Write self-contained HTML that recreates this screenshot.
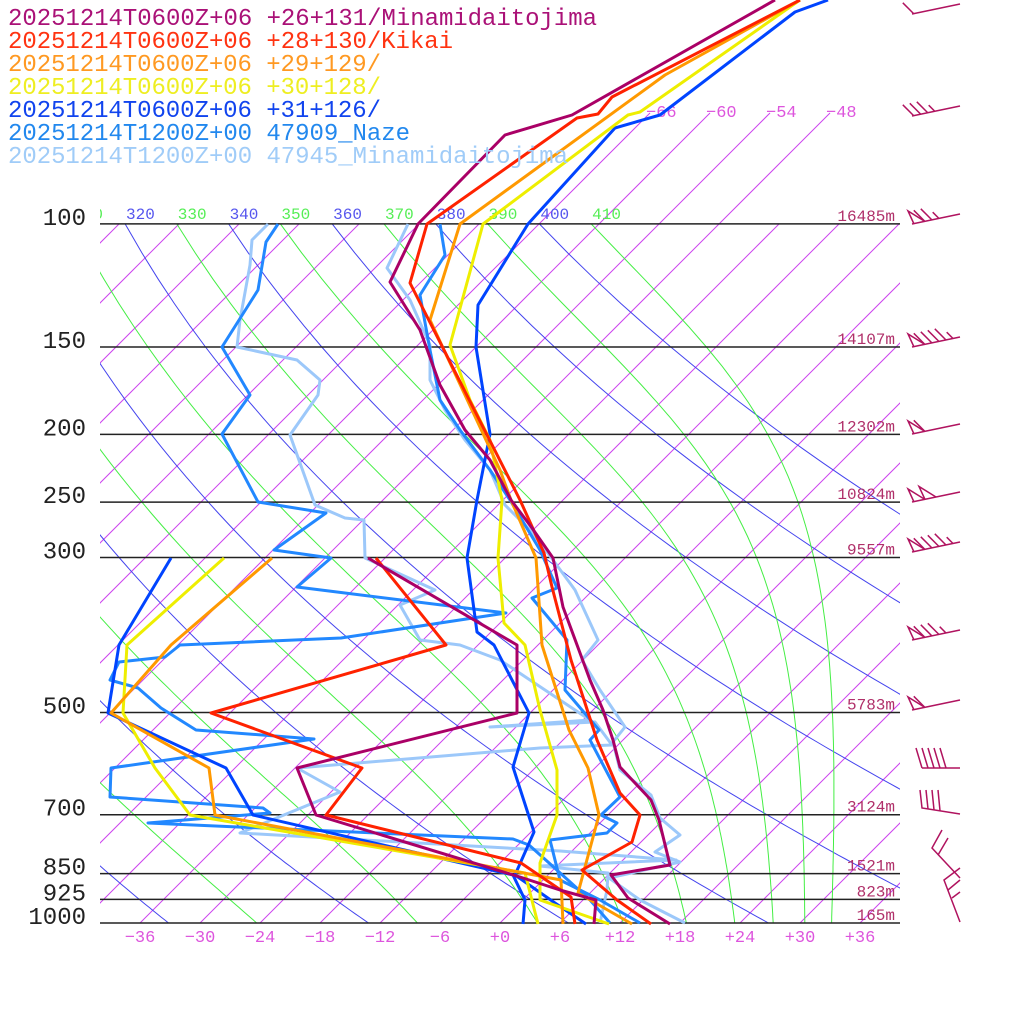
<!DOCTYPE html>
<html><head><meta charset="utf-8"><style>
html,body{margin:0;padding:0;background:#fff;}
svg{display:block;}
text{font-family:"Liberation Mono",monospace;}
</style></head><body>
<svg id="s" width="1024" height="1024" viewBox="0 0 1024 1024" xmlns="http://www.w3.org/2000/svg">
<defs>
<clipPath id="plot"><rect x="100" y="224" width="800" height="699"/></clipPath>
<clipPath id="lab"><rect x="100" y="195" width="800" height="30"/></clipPath>
</defs>
<g id="grid" clip-path="url(#plot)"></g>
<g id="extra"></g>
<g id="plines" stroke="#222" stroke-width="1.5"></g>
<g id="labs"></g>
<g fill="none" stroke-width="3" stroke-linejoin="round">
<polyline stroke="#9cc8fa" points="408,224 387,268 410,300 430,345 430,380 445,410 465,440 490,470 505,505 530,530 553,560 575,590 598,640 582,660 600,690 625,727 613,742 620,770 651,795 660,818 680,835 655,852 680,862 609,878 640,900 685,923"/>
<polyline stroke="#9cc8fa" points="268,224 252,240 250,265 240,320 237,347 297,360 320,380 318,395 290,435 315,505 345,518 364,520 365,558 435,590 400,605 420,640 460,645 500,660 560,700 590,720 490,727 595,722 612,745 540,748 297,768 340,792 240,833 560,851 676,860 540,866 608,873 607,890 600,923"/>
<polyline stroke="#2288ff" points="440,224 445,255 420,295 430,350 440,400 460,430 490,470 510,500 540,550 557,588 532,598 567,640 565,690 599,730 590,740 620,797 601,815 617,823 607,833 550,840 560,880 600,900 640,923"/>
<polyline stroke="#2288ff" points="278,224 266,242 258,290 222,347 250,395 222,434 258,502 326,513 274,550 331,558 297,587 506,613 341,638 180,645 165,657 119,662 110,680 138,688 161,708 196,730 314,739 111,768 110,797 263,808 270,813 148,823 513,839 529,845 548,862 590,900 610,923"/>
<polyline stroke="#0044ff" points="828,0 795,12 660,115 615,128 528,224 478,305 476,347 490,434 477,500 467,558 477,632 494,645 529,713 513,767 534,832 515,875 555,903 586,924"/>
<polyline stroke="#0044ff" points="171,558 119,645 108,713 226,768 253,815 513,875 525,900 523,924"/>
<polyline stroke="#eeee00" points="800,0 640,112 628,115 483,224 450,345 470,400 490,440 500,490 502,500 498,558 504,623 525,645 540,710 557,770 557,815 540,863 540,900 609,924"/>
<polyline stroke="#eeee00" points="224,558 127,645 123,713 155,768 190,815 525,873 538,924"/>
<polyline stroke="#ff9900" points="800,0 665,75 460,224 430,320 500,470 511,500 536,558 542,645 569,730 588,768 599,815 578,893 632,924"/>
<polyline stroke="#ff9900" points="272,558 171,645 111,713 209,768 215,815 561,880 563,924"/>
<polyline stroke="#ff2200" points="800,0 612,97 598,114 577,118 427,224 410,283 520,500 544,553 552,587 571,660 597,740 620,793 640,815 632,842 582,870 617,900 651,924"/>
<polyline stroke="#ff2200" points="376,558 446,645 211,713 362,768 326,815 521,863 571,897 575,924"/>
<polyline stroke="#aa0066" points="775,0 572,115 505,135 418,224 390,282 420,330 440,385 465,430 490,460 511,500 532,528 553,558 563,607 590,680 603,710 613,740 620,767 651,800 659,820 670,865 611,875 628,898 670,924"/>
<polyline stroke="#aa0066" points="368,558 517,645 517,713 297,768 316,815 520,877 560,890 596,900 594,924"/>
</g>
<g id="barbs" stroke="#b0135f" stroke-width="1.5" fill="none"></g>
<g font-size="24">
<text x="8" y="25" fill="#aa1177" textLength="589">20251214T0600Z+06 +26+131/Minamidaitojima</text>
<text x="8" y="48" fill="#ff3311" textLength="445">20251214T0600Z+06 +28+130/Kikai</text>
<text x="8" y="71" fill="#ff9922" textLength="373">20251214T0600Z+06 +29+129/</text>
<text x="8" y="94" fill="#eeee22" textLength="373">20251214T0600Z+06 +30+128/</text>
<text x="8" y="117" fill="#1144ee" textLength="373">20251214T0600Z+06 +31+126/</text>
<text x="8" y="140" fill="#2288ee" textLength="402">20251214T1200Z+00 47909_Naze</text>
<text x="8" y="163" fill="#a0ccf8" textLength="560">20251214T1200Z+00 47945_Minamidaitojima</text>
</g>
</svg>
<script>
(function(){
var NS="http://www.w3.org/2000/svg";
function Y(p){return 923-303.6*Math.log(1000/p);}
function X(T,y){return 500+10*T+(923-y);}
function el(par,tag,a,txt){var e=document.createElementNS(NS,tag);for(var k in a)e.setAttribute(k,a[k]);if(txt!==undefined)e.textContent=txt;par.appendChild(e);return e;}
var g=document.getElementById('grid'),ex=document.getElementById('extra'),pl=document.getElementById('plines'),lb=document.getElementById('labs');
for(var T=-150;T<=60;T+=6){var x1=X(T,923),x2=X(T,224);el(g,'line',{x1:x1,y1:923,x2:x2,y2:224,stroke:'#cc44ee','stroke-width':1});}
[-66,-60,-54,-48].forEach(function(T){var x1=X(T,224),x2=X(T,113);el(ex,'line',{x1:x1,y1:224,x2:x2,y2:113,stroke:'#cc44ee','stroke-width':1});
el(lb,'text',{x:x2-4,y:117,fill:'#dd55dd','font-size':17},(T<0?'−':'+')+Math.abs(T));});
for(var th=200;th<=400;th+=20){var pts=[];for(var p=100;p<=1000;p+=10){var y=Y(p),t=th*Math.pow(p/1000,0.2857)-273.15;pts.push(X(t,y).toFixed(1)+','+y.toFixed(1));}
el(g,'polyline',{points:pts.join(' '),fill:'none',stroke:'#4444ee','stroke-width':1});}
for(var te=230;te<=410;te+=20){var T=te*Math.pow(0.1,0.2857),pts=[];for(var p=100;p<=1000;p+=1){
if(p%10==0){var y=Y(p);pts.push(X(T-273.15,y).toFixed(1)+','+y.toFixed(1));}
var es=6.112*Math.exp(17.67*(T-273.15)/(T-29.65)),rs=0.622*es/(p-es);
var d=(287*T+2.5e6*rs)/(p*(1005+2.5e6*2.5e6*rs*0.622/(287*T*T)));T+=d;}
el(g,'polyline',{points:pts.join(' '),fill:'none',stroke:'#44ee44','stroke-width':1});}
var lg=el(lb,'g',{'clip-path':'url(#lab)','font-size':16});
for(var th=310;th<=410;th+=10){var t=th*Math.pow(0.1,0.2857)-273.15;var x=X(t,224)+1;
el(lg,'text',{x:x,y:219,fill:(th%20==0?'#5555ee':'#55ee55')},''+th);}
var P=[[100,'16485m'],[150,'14107m'],[200,'12302m'],[250,'10824m'],[300,'9557m'],[500,'5783m'],[700,'3124m'],[850,'1521m'],[925,'823m'],[1000,'165m']];
P.forEach(function(a){var y=Y(a[0]);if(a[0]==1000)y=923;el(pl,'line',{x1:100,y1:y,x2:900,y2:y});
el(lb,'text',{x:86,y:y+1,'text-anchor':'end','font-size':24,fill:'#222','font-family':'Liberation Sans, sans-serif'},''+a[0]);
el(lb,'text',{x:895,y:y-3,'text-anchor':'end','font-size':16,fill:'#b0306a'},a[1]);});
for(var T=-36;T<=36;T+=6){el(lb,'text',{x:X(T,923),y:942,'text-anchor':'middle','font-size':17,fill:'#dd55dd'},(T<0?'−':'+')+Math.abs(T));}
var b=document.getElementById('barbs');
function barb(y,n,flag){el(b,'line',{x1:960,y1:y-10,x2:912,y2:y});var f=flag||0;var px=914,py=y;
for(var i=0;i<f;i++){el(b,'polyline',{points:px+','+py+' '+(px-6)+','+(py-13)+' '+(px+11)+','+(py-2.5)});px+=11;py-=2.5;}
for(var i=0;i<n;i++){var L=(i==n-1&&n>1)?9:16;el(b,'line',{x1:px,y1:py,x2:px-L*0.7,y2:py-L*0.7});px+=7;py-=1.5;}}
[[14,1,0],[116,4,0],[224,3,1],[347,5,1],[434,1,1],[502,0,2],[552,5,1],[640,4,1],[710,1,1]].forEach(function(a){barb(a[0],a[1],a[2]);});
el(b,'line',{x1:922,y1:768,x2:960,y2:768});for(var i=0;i<5;i++)el(b,'line',{x1:922+i*6,y1:768,x2:916+i*6,y2:748});
el(b,'polyline',{points:'960,814 922,808 920,790'});for(var i=1;i<4;i++)el(b,'line',{x1:922+i*6,y1:808+i*0.9,x2:920+i*6,y2:790});
el(b,'polyline',{points:'960,878 932,848 942,830'});el(b,'line',{x1:938,y1:855,x2:948,y2:838});
el(b,'polyline',{points:'960,922 944,880 960,868'});el(b,'line',{x1:948,y1:890,x2:960,y2:880});el(b,'line',{x1:952,y1:898,x2:960,y2:892});
})();
</script>
</body></html>
